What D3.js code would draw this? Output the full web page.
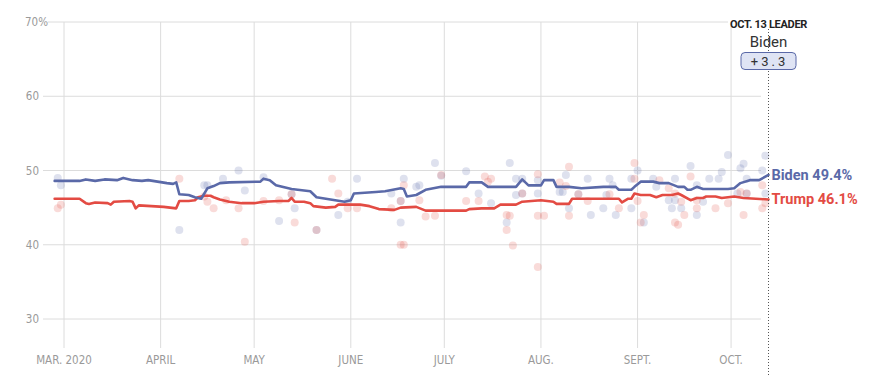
<!DOCTYPE html>
<html>
<head>
<meta charset="utf-8">
<script src="https://cdn.jsdelivr.net/npm/d3@7"></script>
<style>
  body { margin: 0; background: #fff; }
  svg { display: block; }
  .tick-label { font-family: "Liberation Sans Narrow", "DejaVu Sans Condensed", Roboto, sans-serif; font-size: 11.5px; fill: #9a9a9a; }
  .end-label { font-family: Roboto, "Liberation Sans", sans-serif; font-weight: 700; font-size: 14.5px; }
</style>
</head>
<body>
<svg id="chart" width="873" height="385"></svg>
<script>
var yTicks = [30, 40, 50, 60, 70];
var monthTicks = ["2020-03-01", "2020-04-01", "2020-05-01", "2020-06-01", "2020-07-01", "2020-08-01", "2020-09-01", "2020-10-01"];
var monthLabels = ["MAR. 2020", "APRIL", "MAY", "JUNE", "JULY", "AUG.", "SEPT.", "OCT."];

// polling averages (date, %)
var bidenDates = ["02-27","03-06","03-08","03-11","03-14","03-18","03-20","03-23","03-26","03-28","03-31","04-03","04-05","04-06","04-07","04-10","04-12","04-14","04-16","04-18","04-20","04-23","05-03","05-04","05-06","05-08","05-13","05-19","05-21","05-24","05-27","05-30","06-01","06-02","06-09","06-12","06-17","06-18","06-19","06-22","06-25","06-30","07-08","07-09","07-13","07-15","07-24","07-26","07-28","08-01","08-02","08-05","08-06","08-10","08-14","08-21","08-25","08-26","08-30","08-31","09-02","09-06","09-08","09-11","09-14","09-16","09-17","09-18","09-20","09-22","09-30","10-02","10-04","10-07","10-10","10-13"];
var bidenValues = [48.6,48.6,48.8,48.6,48.8,48.7,49.0,48.7,48.6,48.7,48.5,48.3,48.2,48.4,46.8,46.7,46.4,46.2,47.6,47.9,48.3,48.4,48.5,48.9,48.7,48.0,47.5,47.2,46.4,46.2,46.0,45.8,46.0,46.9,47.1,47.2,47.6,47.5,46.5,46.7,47.4,47.8,47.8,48.4,48.4,47.8,47.8,48.8,48.0,48.0,48.7,48.7,47.8,47.8,47.6,47.8,47.8,47.4,47.4,47.8,48.5,48.5,48.3,48.3,47.8,47.8,47.4,47.4,47.8,47.5,47.5,47.6,48.3,48.7,48.7,49.4];

var trumpDates = ["02-27","03-06","03-08","03-09","03-11","03-15","03-16","03-17","03-22","03-23","03-24","03-25","03-29","04-02","04-06","04-07","04-10","04-12","04-13","04-15","04-17","04-18","04-20","04-23","04-27","05-01","05-04","05-09","05-12","05-13","05-14","05-17","05-19","05-20","05-24","05-27","05-28","06-04","06-07","06-10","06-15","06-17","06-22","06-25","07-08","07-09","07-13","07-17","07-19","07-24","07-26","08-01","08-05","08-06","08-10","08-11","08-22","08-26","08-27","08-29","08-30","08-31","09-02","09-05","09-07","09-09","09-12","09-14","09-15","09-18","09-20","09-22","09-23","09-26","09-28","10-02","10-05","10-13"];
var trumpValues = [46.2,46.2,45.6,45.5,45.7,45.6,45.4,45.8,45.9,45.8,44.9,45.3,45.2,45.1,44.9,45.9,45.9,46.0,46.4,46.6,46.6,46.4,46.1,45.8,45.6,45.6,45.8,45.9,45.9,46.3,45.8,45.8,45.6,45.2,45.0,45.1,45.4,45.4,45.2,44.8,44.7,45.0,45.1,44.6,44.6,44.8,44.9,44.9,45.4,45.4,45.8,46.0,45.8,45.5,45.5,46.2,46.2,46.2,45.7,46.2,46.2,46.9,46.7,46.7,46.4,46.7,46.7,46.9,46.7,46.0,46.3,46.3,46.5,46.5,46.3,46.5,46.3,46.1];

// individual polls
var bidenPollDates = ["02-28","02-29","04-07","04-15","04-16","04-21","04-26","04-28","05-04","05-09","05-13","05-14","05-21","05-28","05-31","06-03","06-14","06-18","06-17","06-17","06-22","06-23","06-28","06-30","07-08","07-12","07-16","07-21","07-22","07-24","07-24","07-26","07-26","07-31","07-31","08-07","08-08","08-09","08-10","08-13","08-16","08-17","08-21","08-22","08-23","08-24","08-25","08-30","08-30","09-01","09-03","09-06","09-07","09-11","09-12","09-13","09-13","09-15","09-18","09-20","09-20","09-22","09-24","09-27","09-28","09-30","10-03","10-04","10-05","10-06","10-06","10-11","10-12","10-12"];
var bidenPollValues = [49.0,48.0,42.0,48.0,48.0,48.9,50.0,47.3,49.1,43.2,46.8,44.9,42.0,44.0,45.8,48.9,46.9,48.9,45.9,43.0,47.8,48.0,51.0,49.3,49.9,46.9,45.6,43.0,51.0,48.9,46.7,48.9,46.9,48.7,46.9,47.1,47.1,49.4,44.9,46.8,48.9,44.0,44.9,46.7,48.9,48.0,44.0,44.9,48.9,50.0,43.0,48.9,47.8,46.0,44.9,48.9,46.0,44.9,50.6,48.0,44.0,45.8,48.9,48.9,49.8,52.1,46.9,50.3,50.9,48.9,46.9,50.0,52.0,46.9];

var trumpPollDates = ["02-28","02-29","04-07","04-15","04-16","04-18","04-22","04-26","04-28","05-04","05-09","05-13","05-14","05-21","05-26","05-28","05-31","06-03","06-14","06-17","06-17","06-18","06-18","06-23","06-25","06-28","06-30","07-08","07-12","07-14","07-15","07-16","07-21","07-21","07-22","07-23","07-26","07-31","07-31","07-31","08-02","08-07","08-09","08-10","08-10","08-13","08-16","08-23","08-26","08-31","08-31","09-01","09-03","09-02","09-08","09-11","09-13","09-13","09-14","09-15","09-16","09-18","09-20","09-20","09-26","09-30","10-04","10-05","10-06","10-11","10-11","10-12"];
var trumpPollValues = [44.9,45.4,48.9,46.5,45.8,44.9,46.0,44.9,40.4,45.9,46.0,46.8,43.0,42.0,48.9,46.9,44.9,44.9,44.9,45.9,40.0,40.0,48.0,46.0,43.8,43.9,49.4,45.9,45.9,49.2,48.5,48.9,42.0,44.0,43.9,39.9,46.9,49.5,43.9,37.0,43.9,48.4,47.9,50.5,43.9,46.8,45.9,46.8,44.9,51.0,48.9,45.9,44.0,43.0,48.7,47.6,46.9,43.0,42.7,45.8,44.0,49.2,44.9,46.0,44.9,45.6,47.1,44.0,46.9,44.9,48.0,45.6];

var blue = "#5a69a8", red = "#e34b43";
var parse = d3.timeParse("%Y-%m-%d");
function day(s) { return parse("2020-" + s); }

var svg = d3.select("#chart");
var x = d3.scaleTime().domain([parse("2020-03-01"), parse("2020-10-13")]).range([64, 768.5]);
var y = d3.scaleLinear().domain([30, 70]).range([319, 22]);

// horizontal grid
svg.append("g").selectAll("line").data(yTicks).enter().append("line")
    .attr("x1", function (d) { return d === 70 ? 48 : 43; })
    .attr("x2", function (d) { return d === 70 ? 728 : 761; })
    .attr("y1", function (d) { return y(d); })
    .attr("y2", function (d) { return y(d); })
    .attr("stroke", "#dcdcdc").attr("stroke-width", 1);

var yl = svg.append("g").selectAll("text").data(yTicks).enter().append("text")
    .attr("class", "tick-label")
    .attr("x", 39).attr("y", function (d) { return y(d) + 4; })
    .attr("text-anchor", function (d) { return d === 70 ? "start" : "end"; })
    .text(function (d) { return d; });
yl.filter(function (d) { return d === 70; }).attr("x", 25).append("tspan").text("%");

// vertical grid
svg.append("g").selectAll("line").data(monthTicks).enter().append("line")
    .attr("x1", function (d) { return x(parse(d)); })
    .attr("x2", function (d) { return x(parse(d)); })
    .attr("y1", 22).attr("y2", 348)
    .attr("stroke", "#dcdcdc").attr("stroke-width", 1);

svg.append("g").selectAll("text").data(monthTicks).enter().append("text")
    .attr("class", "tick-label")
    .attr("x", function (d) { return x(parse(d)); })
    .attr("y", 364)
    .attr("text-anchor", "middle")
    .text(function (d, i) { return monthLabels[i]; });

// polls
function drawPolls(dates, values, color) {
    svg.append("g").selectAll("circle").data(dates).enter().append("circle")
        .attr("cx", function (d) { return x(day(d)); })
        .attr("cy", function (d, i) { return y(values[i]); })
        .attr("r", 4)
        .attr("fill", color)
        .attr("fill-opacity", 0.2);
}
drawPolls(bidenPollDates, bidenPollValues, blue);
drawPolls(trumpPollDates, trumpPollValues, red);

// averages
function drawLine(dates, values, color) {
    var pts = dates.map(function (d, i) { return [x(day(d)), y(values[i])]; });
    svg.append("path")
        .attr("d", d3.line()(pts))
        .attr("fill", "none")
        .attr("stroke", color)
        .attr("stroke-width", 2.6)
        .attr("stroke-linejoin", "round")
        .attr("stroke-linecap", "round");
}
drawLine(trumpDates, trumpValues, red);
drawLine(bidenDates, bidenValues, blue);

// leader marker
var xEnd = x(parse("2020-10-13"));
svg.append("line")
    .attr("x1", xEnd).attr("x2", xEnd)
    .attr("y1", 29).attr("y2", 376)
    .attr("stroke", "#555").attr("stroke-width", 1)
    .attr("stroke-dasharray", "1,2");

svg.append("text")
    .attr("x", xEnd).attr("y", 28)
    .attr("text-anchor", "middle")
    .style("font-family", "Roboto, sans-serif").style("font-weight", 700)
    .style("font-size", "11px").style("letter-spacing", "-0.3px")
    .attr("fill", "#222")
    .text("OCT. 13 LEADER");

svg.append("text")
    .attr("x", xEnd).attr("y", 47)
    .attr("text-anchor", "middle")
    .style("font-family", "Roboto, sans-serif").style("font-size", "15px")
    .attr("fill", "#333")
    .text("Biden");

svg.append("rect")
    .attr("x", xEnd - 27.5).attr("y", 52.5)
    .attr("width", 55).attr("height", 17)
    .attr("rx", 4)
    .attr("fill", "#dfe4f4").attr("stroke", blue).attr("stroke-width", 1);

var lead = d3.format(".1f")(bidenValues[bidenValues.length - 1] - trumpValues[trumpValues.length - 1]);
svg.append("text")
    .attr("x", xEnd + 1).attr("y", 65.5)
    .attr("text-anchor", "middle")
    .style("font-family", "Roboto, sans-serif").style("font-size", "13px")
    .style("letter-spacing", "3px")
    .attr("fill", "#333")
    .text("+" + lead);

// end labels
svg.append("text")
    .attr("class", "end-label")
    .attr("x", xEnd + 3).attr("y", y(bidenValues[bidenValues.length - 1]) + 5)
    .attr("fill", blue)
    .text("Biden " + bidenValues[bidenValues.length - 1] + "%");
svg.append("text")
    .attr("class", "end-label")
    .attr("x", xEnd + 3).attr("y", y(trumpValues[trumpValues.length - 1]) + 5)
    .attr("fill", red)
    .text("Trump " + trumpValues[trumpValues.length - 1] + "%");
</script>
</body>
</html>
